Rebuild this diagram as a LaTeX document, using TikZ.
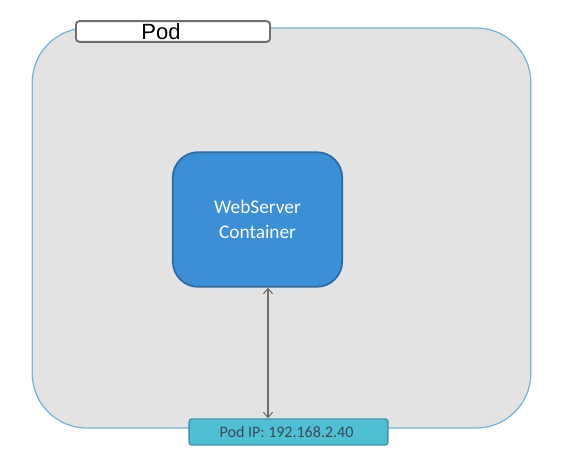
\documentclass[tikz,border=0pt]{standalone}
\usepackage{fontspec}
\usepackage{tikz}
\usetikzlibrary{arrows.meta,positioning,calc}
\newfontfamily\labelfont{Liberation Sans}
\newfontfamily\boxfont{Carlito}
\definecolor{podgray}{HTML}{E3E3E3}
\definecolor{podline}{HTML}{72B2DC}
\definecolor{webfill}{HTML}{3A8FD6}
\definecolor{webline}{HTML}{2C6AA3}
\definecolor{ipfill}{HTML}{4FBFD3}
\definecolor{ipline}{HTML}{3A96A8}
\definecolor{tagline}{HTML}{6E6E6E}
\definecolor{txtgray}{HTML}{3A4A55}
\begin{document}
\begin{tikzpicture}[x=0.75pt,y=-0.75pt,
  podbox/.style={draw=podline,fill=podgray,line width=0.9pt,rounded corners=41pt},
  tag/.style={draw=tagline,fill=white,line width=1.4pt,rounded corners=2.5pt,font=\labelfont\fontsize{16.5}{18}\selectfont,inner sep=0pt},
  web/.style={draw=webline,fill=webfill,line width=1.3pt,rounded corners=19pt,align=center,text=white,font=\boxfont\fontsize{14.5}{18.5}\selectfont,inner sep=0pt},
  ipbox/.style={draw=ipline,fill=ipfill,line width=1.1pt,rounded corners=2pt,text=txtgray,font=\boxfont\fontsize{12}{14}\selectfont,inner sep=0pt},
  >={Straight Barb[length=4pt,width=7pt]}]
  \useasboundingbox (0,0) rectangle (566,466);
  \node[podbox,minimum width=374pt,minimum height=300pt] (pod) at (281.5,228) {};
  \node[tag,minimum width=145.5pt,minimum height=15.5pt] (podtag) at (173,31.5) {Pod\hspace*{18pt}};
  \node[web,minimum width=127pt,minimum height=101pt] (srv) at (257.5,219.5) {WebServer\\Container};
  \node[ipbox,minimum width=149pt,minimum height=19.5pt] (ip) at (288.5,432) {Pod IP: 192.168.2.40\hspace*{3pt}};
  \coordinate (ax) at (268,0);
  \draw[<->,draw=tagline,line width=0.8pt] (srv.south -| ax) -- (ip.north -| ax);
\end{tikzpicture}
\end{document}
